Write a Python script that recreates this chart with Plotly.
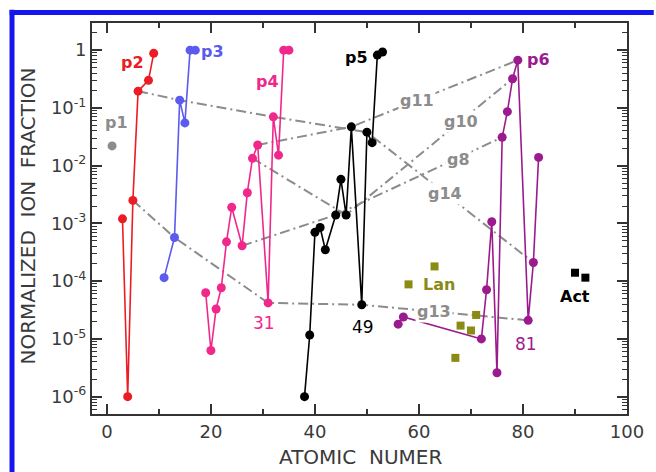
import plotly.graph_objects as go
import numpy as np

# ---------------- data ----------------
p1_z = [1]
p1_f = [0.022]
p2_z = [3, 4, 5, 6, 8, 9]
p2_f = [1.2e-3, 1.0e-6, 2.5e-3, 0.195, 0.30, 0.88]
p3_z = [11, 13, 14, 15, 16, 17]
p3_f = [1.15e-4, 5.7e-4, 0.136, 0.055, 1.0, 1.0]
p4_z = [19, 20, 21, 22, 23, 24, 26, 27, 28, 29, 31, 32, 33, 34, 35]
p4_f = [6.3e-5, 6.3e-6, 3.3e-5, 7.7e-5, 4.8e-4, 1.9e-3, 4.1e-4, 3.4e-3,
        0.0134, 0.0228, 4.2e-5, 0.070, 0.0152, 1.0, 1.0]
p5_z = [38, 39, 40, 41, 42, 44, 45, 46, 47, 49, 50, 51, 52, 53]
p5_f = [1.0e-6, 1.17e-5, 7.0e-4, 8.5e-4, 3.5e-4, 1.4e-3, 5.8e-3, 1.4e-3,
        0.047, 3.9e-5, 0.038, 0.025, 0.82, 0.93]
p6_z = [56, 57, 72, 73, 74, 75, 76, 77, 78, 79, 81, 82, 83]
p6_f = [1.8e-5, 2.4e-5, 1.0e-5, 7.1e-5, 1.07e-3, 2.6e-6, 0.031, 0.086,
        0.32, 0.67, 2.1e-5, 2.1e-4, 0.0139]
lan_z = [58, 63, 67, 68, 70, 71]
lan_f = [8.8e-5, 1.8e-4, 4.7e-6, 1.7e-5, 1.4e-5, 2.6e-5]
act_z = [90, 92]
act_f = [1.4e-4, 1.15e-4]

# group lines (atomic numbers)
g14_z = [6, 14, 32, 50, 82]
g11_z = [29, 47, 79]
g10_z = [28, 46, 78]
g8_z = [26, 44, 76]
g13_z = [5, 13, 31, 49, 81]

x_ticks = [0, 20, 40, 60, 80, 100]
y_ticks = [1e-6, 1e-5, 1e-4, 1e-3, 1e-2, 1e-1, 1]
y_ticktext = ["10<sup>-6</sup>", "10<sup>-5</sup>", "10<sup>-4</sup>", "10<sup>-3</sup>",
              "10<sup>-2</sup>", "10<sup>-1</sup>", "1"]

# ---------------- styling ----------------
RED = "#ec1c24"
BLUE = "#5b5bef"
PINK = "#f0288c"
BLACK = "#000000"
PURPLE = "#9b1b8e"
OLIVE = "#8a8a14"
GRAY = "#8c8c8c"
FONT = "DejaVu Sans"

lookup = {}
for zs, fs in [(p2_z, p2_f), (p3_z, p3_f), (p4_z, p4_f), (p5_z, p5_f), (p6_z, p6_f)]:
    for z, f in zip(zs, fs):
        lookup[z] = f

fig = go.Figure()

for gz in [g14_z, g11_z, g10_z, g8_z, g13_z]:
    fig.add_trace(go.Scatter(
        x=gz, y=[lookup[z] for z in gz], mode="lines",
        line=dict(color=GRAY, width=2, dash="10px,4px,2px,4px"),
        hoverinfo="skip", showlegend=False))

for zs, fs, col in [(p2_z, p2_f, RED), (p3_z, p3_f, BLUE), (p4_z, p4_f, PINK),
                    (p5_z, p5_f, BLACK), (p6_z, p6_f, PURPLE)]:
    fig.add_trace(go.Scatter(
        x=zs, y=fs, mode="lines+markers",
        line=dict(color=col, width=1.6),
        marker=dict(color=col, size=9),
        showlegend=False))

fig.add_trace(go.Scatter(x=p1_z, y=p1_f, mode="markers",
                         marker=dict(color=GRAY, size=9), showlegend=False))
fig.add_trace(go.Scatter(x=lan_z, y=lan_f, mode="markers",
                         marker=dict(color=OLIVE, size=8, symbol="square"), showlegend=False))
fig.add_trace(go.Scatter(x=act_z, y=act_f, mode="markers",
                         marker=dict(color=BLACK, size=8, symbol="square"), showlegend=False))

labels = [
    ("p1", 1.9, -1.26, GRAY, True, False),
    ("p2", 4.9, -0.21, RED, True, False),
    ("p3", 20.3, -0.03, BLUE, True, False),
    ("p4", 30.9, -0.55, PINK, True, False),
    ("p5", 48.0, -0.12, BLACK, True, False),
    ("p6", 83.0, -0.16, PURPLE, True, False),
    ("g11", 59.7, -0.88, GRAY, True, True),
    ("g10", 68.0, -1.23, GRAY, True, True),
    ("g8", 67.6, -1.90, GRAY, True, True),
    ("g14", 65.0, -2.49, GRAY, True, True),
    ("g13", 62.9, -4.52, GRAY, True, True),
    ("Lan", 63.8, -4.05, OLIVE, True, False),
    ("Act", 90.0, -4.26, BLACK, True, False),
    ("31", 30.3, -4.72, PINK, False, False),
    ("49", 49.2, -4.79, BLACK, False, False),
    ("81", 80.6, -5.09, PURPLE, False, False),
]
for txt, x, y, col, bold, bg in labels:
    fig.add_annotation(
        x=x, y=y, xref="x", yref="y",
        text=f"<b>{txt}</b>" if bold else txt,
        showarrow=False, xanchor="center", yanchor="middle",
        font=dict(family=FONT, size=16 if bold else 17, color=col),
        bgcolor="white" if bg else None,
        borderpad=1)

# axis titles
fig.add_annotation(x=-0.119, y=0.506, xref="paper", yref="paper",
                   xanchor="center", yanchor="middle",
                   text="NORMALIZED  ION  FRACTION", textangle=-90, showarrow=False,
                   font=dict(family=FONT, size=20, color="#3a3a3a"))
fig.add_annotation(x=0.502, y=-0.110, xref="paper", yref="paper",
                   xanchor="center", yanchor="middle",
                   text="ATOMIC  NUMER", showarrow=False,
                   font=dict(family=FONT, size=20, color="#3a3a3a"))

# blue frame
fig.add_shape(type="line", xref="paper", yref="paper",
              x0=-0.1495, x1=-0.1495, y0=1.034, y1=-0.2,
              line=dict(color="#1515f0", width=5))
fig.add_shape(type="line", xref="paper", yref="paper",
              x0=-0.154, x1=1.05, y0=1.0269, y1=1.0269,
              line=dict(color="#1515f0", width=5))

y_minor = [k * 10.0 ** n for n in range(-7, 1) for k in range(2, 10)]

fig.update_layout(
    width=656, height=472,
    margin=dict(l=92, r=18, t=23, b=58),
    paper_bgcolor="white", plot_bgcolor="white",
    font=dict(family=FONT, size=17, color="#3a3a3a"),
    xaxis=dict(
        range=[-2.86, 100], tickmode="array", tickvals=x_ticks,
        showgrid=False, zeroline=False,
        showline=True, linecolor="#333333", linewidth=2, mirror="ticks",
        ticks="inside", ticklen=10, tickwidth=2, tickcolor="#333333",
        minor=dict(tickmode="array", tickvals=[10, 30, 50, 70, 90],
                   ticks="inside", ticklen=5, tickwidth=2, tickcolor="#333333"),
        tickfont=dict(family=FONT, size=18, color="#3a3a3a"),
    ),
    yaxis=dict(
        type="log", range=[-6.30, 0.47], tickmode="array",
        tickvals=y_ticks, ticktext=y_ticktext,
        showgrid=False, zeroline=False,
        showline=True, linecolor="#333333", linewidth=2, mirror="ticks",
        ticks="inside", ticklen=10, tickwidth=2, tickcolor="#333333",
        minor=dict(tickmode="array", tickvals=y_minor,
                   ticks="inside", ticklen=5, tickwidth=1, tickcolor="#333333"),
        tickfont=dict(family=FONT, size=18, color="#3a3a3a"),
    ),
)

fig.write_html("out.html")
